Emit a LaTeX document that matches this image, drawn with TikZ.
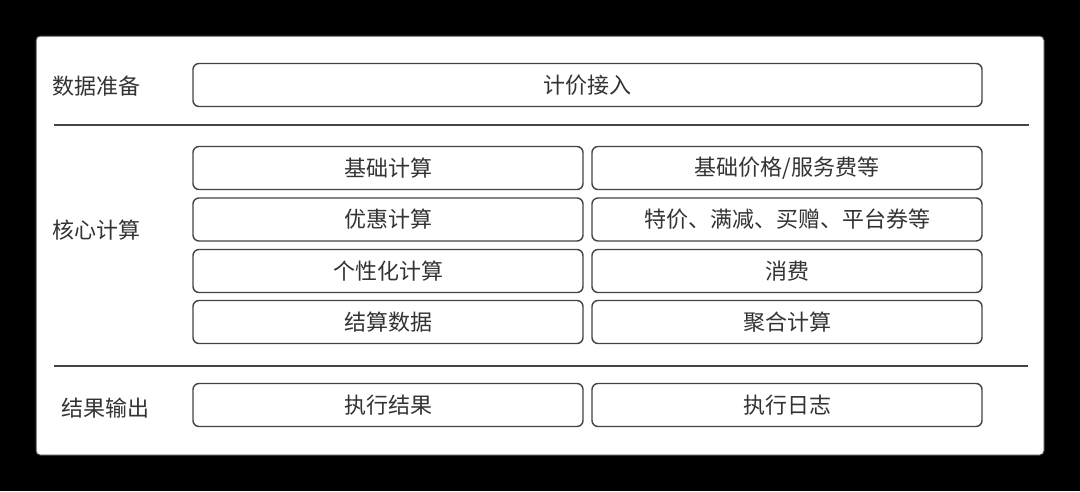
\documentclass[tikz,border=0pt]{standalone}
\usepackage{fontspec}
\setmainfont{Noto Sans CJK SC}
\usetikzlibrary{positioning}
\definecolor{inkgray}{HTML}{333333}
\definecolor{linegray}{HTML}{444444}
\begin{document}
\begin{tikzpicture}
    [x=1pt, y=-1pt,
    panel/.style={fill=white, draw=linegray, line width=1pt, rounded corners=4pt},
    cell/.style={draw=linegray, line width=1.4pt, rounded corners=6pt, minimum height=43pt,
        minimum width=390pt, inner sep=0pt, text=inkgray, font=\fontsize{22pt}{26pt}\selectfont},
    wide cell/.style={cell, minimum width=789pt},
    layer/.style={text=inkgray, anchor=west, inner sep=0pt, font=\fontsize{22pt}{26pt}\selectfont},
    divider/.style={draw=linegray, line width=1.3pt}]

    % drawing background and panel
    \fill[black] (0, 0) rectangle (1080, 491);
    \useasboundingbox (0, 0) rectangle (1080, 491);
    \draw[panel] (36, 36) rectangle (1044, 455);

    \def\left{388}
    \def\right{787}

    % drawing layer titles
    \node[layer] (prep) at (52, 86) {数据准备};
    \node[layer] (core) at (52, 230) {核心计算};
    \node[layer] (out) at (61, 408) {结果输出};

    % drawing dividers
    \coordinate (d1a) at (54, 125);
    \coordinate (d1b) at (1029, 125);
    \coordinate (d2a) at (54, 366);
    \coordinate (d2b) at (1028, 366);
    \draw[divider] (d1a) -- (d1b);
    \draw[divider] (d2a) -- (d2b);

    % drawing data preparation
    \node[wide cell] (access) at (587.5, 85) {计价接入};

    % drawing core calculation
    \node[cell] (base) at (\left, 168) {基础计算};
    \node[cell] (baseitem) at (\right, 168) {基础价格/服务费等};
    \node[cell] (promo) at (\left, 219.5) {优惠计算};
    \node[cell] (promoitem) at (\right, 219.5) {特价、满减、买赠、平台券等};
    \node[cell] (custom) at (\left, 271) {个性化计算};
    \node[cell] (customitem) at (\right, 271) {消费};
    \node[cell] (settle) at (\left, 322) {结算数据};
    \node[cell] (settleitem) at (\right, 322) {聚合计算};

    % drawing results
    \node[cell] (result) at (\left, 405) {执行结果};
    \node[cell] (log) at (\right, 405) {执行日志};

\end{tikzpicture}
\end{document}
